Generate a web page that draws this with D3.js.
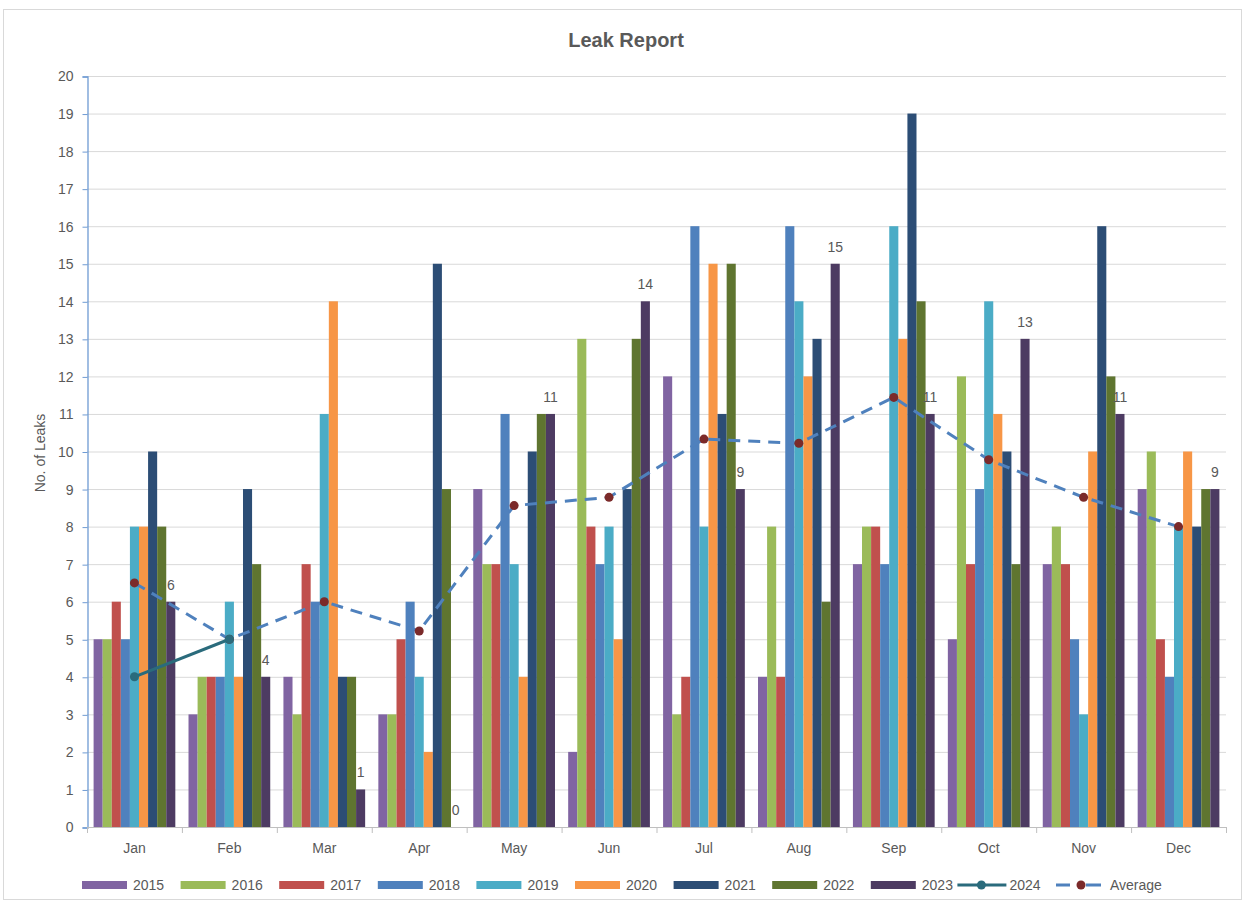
<!DOCTYPE html>
<html>
<head>
<meta charset="utf-8">
<title>Leak Report</title>
<script src="https://cdn.jsdelivr.net/npm/d3@7"></script>
<style>
  html, body { margin: 0; padding: 0; background: #fff; }
  svg { display: block; }
  text { font-family: "Liberation Sans", Arial, sans-serif; fill: #595959; }
</style>
</head>
<body>
<svg id="chart" width="1247" height="907"></svg>
<script>
// Monthly leak counts per year
const months = ["Jan", "Feb", "Mar", "Apr", "May", "Jun", "Jul", "Aug", "Sep", "Oct", "Nov", "Dec"];
const years = ["2015", "2016", "2017", "2018", "2019", "2020", "2021", "2022", "2023"];

const leaks2015 = [5, 3, 4, 3, 9, 2, 12, 4, 7, 5, 7, 9];
const leaks2016 = [5, 4, 3, 3, 7, 13, 3, 8, 8, 12, 8, 10];
const leaks2017 = [6, 4, 7, 5, 7, 8, 4, 4, 8, 7, 7, 5];
const leaks2018 = [5, 4, 6, 6, 11, 7, 16, 16, 7, 9, 5, 4];
const leaks2019 = [8, 6, 11, 4, 7, 8, 8, 14, 16, 14, 3, 8];
const leaks2020 = [8, 4, 14, 2, 4, 5, 15, 12, 13, 11, 10, 10];
const leaks2021 = [10, 9, 4, 15, 10, 9, 11, 13, 19, 10, 16, 8];
const leaks2022 = [8, 7, 4, 9, 11, 13, 15, 6, 14, 7, 12, 9];
const leaks2023 = [6, 4, 1, 0, 11, 14, 9, 15, 11, 13, 11, 9];
const leaks2024 = [4, 5];
const average = [6.5, 5, 6, 5.22, 8.56, 8.78, 10.33, 10.22, 11.44, 9.78, 8.78, 8];

const yTicks = d3.range(0, 21);

const barColors = ["#8064a2", "#9bbb59", "#c0504d", "#4f81bd", "#4bacc6", "#f79646", "#2c4d75", "#5f7530", "#4d3b62"];
const barSeries = [leaks2015, leaks2016, leaks2017, leaks2018, leaks2019, leaks2020, leaks2021, leaks2022, leaks2023];

const svg = d3.select("#chart");

// chart frame
svg.append("rect")
  .attr("x", 3.5).attr("y", 9.5).attr("width", 1238).attr("height", 890)
  .attr("fill", "#fff").attr("stroke", "#d9d9d9");

const plot = { left: 87, right: 1226, top: 76, bottom: 827 };

const x0 = d3.scaleBand().domain(months).range([plot.left, plot.right])
  .paddingInner(0.139).paddingOuter(0.0695);
const step = x0.step();
const x1 = d3.scaleBand().domain(years).range([0, x0.bandwidth()]);
const y = d3.scaleLinear().domain([0, 20]).range([plot.bottom, plot.top]);
const color = d3.scaleOrdinal().domain(years).range(barColors);
const center = m => x0(m) + x0.bandwidth() / 2;

// title
svg.append("text")
  .attr("x", 626).attr("y", 47)
  .attr("text-anchor", "middle")
  .style("font-size", "20px").style("font-weight", "bold")
  .text("Leak Report");

// horizontal gridlines
svg.append("g").selectAll("line")
  .data(yTicks.filter(d => d > 0))
  .join("line")
  .attr("x1", plot.left).attr("x2", plot.right)
  .attr("y1", d => y(d) + 0.5).attr("y2", d => y(d) + 0.5)
  .attr("stroke", "#d9d9d9").attr("stroke-width", 1);

// y axis
const yAxis = d3.axisLeft(y).tickValues(yTicks).tickSize(5).tickPadding(9);
const gy = svg.append("g").attr("transform", `translate(${plot.left + 0.5},0.5)`).call(yAxis);
gy.select(".domain").attr("stroke", "#6f9bd3").attr("stroke-width", 1.3);
gy.selectAll(".tick line").attr("stroke", "#6f9bd3");
gy.selectAll(".tick text").style("font-size", "14px").attr("fill", "#595959")
  .style("font-family", "'Liberation Sans', Arial, sans-serif");

// y axis title
svg.append("text")
  .attr("transform", `translate(45,453) rotate(-90)`)
  .attr("text-anchor", "middle")
  .style("font-size", "14px")
  .text("No. of Leaks");

// bars
const groups = svg.append("g").selectAll("g")
  .data(months)
  .join("g")
  .attr("transform", m => `translate(${x0(m)},0)`);

groups.selectAll("rect")
  .data((m, i) => years.map((yr, k) => ({ year: yr, value: barSeries[k][i] })))
  .join("rect")
  .attr("x", d => x1(d.year))
  .attr("width", x1.bandwidth())
  .attr("y", d => y(d.value))
  .attr("height", d => y(0) - y(d.value))
  .attr("fill", d => color(d.year));

// x axis line and category ticks
svg.append("line")
  .attr("x1", plot.left).attr("x2", plot.right)
  .attr("y1", plot.bottom + 0.5).attr("y2", plot.bottom + 0.5)
  .attr("stroke", "#bfbfbf");
svg.append("g").selectAll("line")
  .data(d3.range(0, months.length + 1))
  .join("line")
  .attr("x1", i => plot.left + i * step + 0.5).attr("x2", i => plot.left + i * step + 0.5)
  .attr("y1", plot.bottom).attr("y2", plot.bottom + 6)
  .attr("stroke", "#bfbfbf");
svg.append("g").selectAll("text")
  .data(months)
  .join("text")
  .attr("x", m => center(m))
  .attr("y", 853)
  .attr("text-anchor", "middle")
  .style("font-size", "14px")
  .text(m => m);

// value labels on the 2023 bars
svg.append("g").selectAll("text")
  .data(months)
  .join("text")
  .attr("x", (m, i) => x0(m) + x1("2023") + x1.bandwidth() / 2)
  .attr("y", (m, i) => y(leaks2023[i]) - 12)
  .attr("text-anchor", "middle")
  .style("font-size", "14px")
  .attr("fill", "#404040")
  .text((m, i) => leaks2023[i]);

// average line
const avgLine = d3.line().x((d, i) => center(months[i])).y(d => y(d));
svg.append("path")
  .datum(average)
  .attr("d", avgLine)
  .attr("fill", "none")
  .attr("stroke", "#4f81bd")
  .attr("stroke-width", 3)
  .attr("stroke-dasharray", "12,8");
svg.append("g").selectAll("circle")
  .data(average)
  .join("circle")
  .attr("cx", (d, i) => center(months[i]))
  .attr("cy", d => y(d))
  .attr("r", 4.5)
  .attr("fill", "#7b2a2a");

// 2024 line
const line2024 = d3.line().x((d, i) => center(months[i])).y(d => y(d));
svg.append("path")
  .datum(leaks2024)
  .attr("d", line2024)
  .attr("fill", "none")
  .attr("stroke", "#2a6b7c")
  .attr("stroke-width", 3);
svg.append("g").selectAll("circle")
  .data(leaks2024)
  .join("circle")
  .attr("cx", (d, i) => center(months[i]))
  .attr("cy", d => y(d))
  .attr("r", 4.5)
  .attr("fill", "#2a6b7c");

// legend
const legendItems = years.map((yr, k) => ({ label: yr, type: "bar", color: barColors[k] }))
  .concat([{ label: "2024", type: "line", color: "#2a6b7c", marker: "#2a6b7c" },
           { label: "Average", type: "dash", color: "#4f81bd", marker: "#7b2a2a" }]);
const legend = svg.append("g").attr("transform", "translate(82,885)");
const item = legend.selectAll("g")
  .data(legendItems)
  .join("g")
  .attr("transform", (d, i) => `translate(${i * 98.6},0)`);
item.filter(d => d.type === "bar").append("rect")
  .attr("x", 0).attr("y", -4).attr("width", 45).attr("height", 8)
  .attr("fill", d => d.color);
item.filter(d => d.type === "line").append("line")
  .attr("x1", -12).attr("x2", 37).attr("y1", 0).attr("y2", 0)
  .attr("stroke", d => d.color).attr("stroke-width", 3);
item.filter(d => d.type === "dash").append("path")
  .attr("d", "M-12,0H2M18,0H33")
  .attr("stroke", d => d.color).attr("stroke-width", 3).attr("fill", "none");
item.filter(d => d.type !== "bar").append("circle")
  .attr("cx", d => d.type === "line" ? 12 : 13).attr("cy", 0).attr("r", 4.5)
  .attr("fill", d => d.marker);
item.append("text")
  .attr("x", d => d.type === "bar" ? 51 : (d.type === "line" ? 40 : 42))
  .attr("y", 5)
  .style("font-size", "14px")
  .text(d => d.label);
</script>
</body>
</html>
